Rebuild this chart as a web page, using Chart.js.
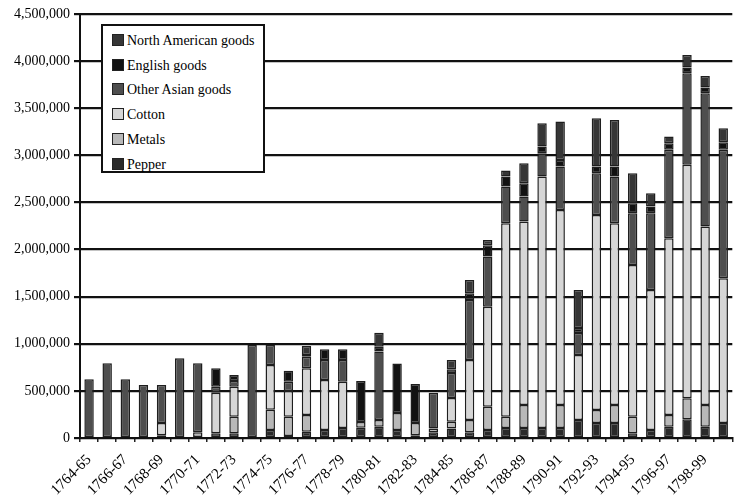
<!DOCTYPE html>
<html>
<head>
<meta charset="utf-8">
<script src="https://cdn.jsdelivr.net/npm/chart.js@4.4.1/dist/chart.umd.min.js"></script>
<style>
  html, body { margin: 0; padding: 0; background: #fff; overflow: hidden; }
  #wrap { position: relative; width: 745px; height: 497px; }
  #legend {
    position: absolute; left: 101px; top: 24px; width: 160px; height: 145px;
    border: 2px solid #111; background: #fff;
    font-family: "Liberation Serif", "DejaVu Serif", serif; font-size: 14px; color: #000;
  }
  #legend .row { position: absolute; left: 9px; height: 16px; line-height: 16px; white-space: nowrap; }
  #legend .sw { display: inline-block; width: 10px; height: 10px; border: 1px solid #222; margin-right: 3px; vertical-align: -1px; }
</style>
</head>
<body>
<div id="wrap">
  <canvas id="grafik"></canvas>
  <div id="legend"></div>
</div>
<script>
/* VERILER (bin olarak okundu) */
var yillar = ["1764-65","1765-66","1766-67","1767-68","1768-69","1769-70","1770-71","1771-72","1772-73","1773-74",
  "1774-75","1775-76","1776-77","1777-78","1778-79","1779-80","1780-81","1781-82","1782-83","1783-84",
  "1784-85","1785-86","1786-87","1787-88","1788-89","1789-90","1790-91","1791-92","1792-93","1793-94",
  "1794-95","1795-96","1796-97","1797-98","1798-99","1799-00"];

var pepper  = [10,10,10,10,30,0,0,50,50,0,85,20,67,85,106,110,120,85,30,60,100,60,85,106,106,106,106,191,159,159,50,85,120,200,120,159];
var metals  = [0,0,0,0,0,0,60,0,175,0,215,206,177,0,0,60,71,180,130,40,73,131,247,120,244,0,244,0,138,191,176,0,124,221,230,0];
var cotton  = [0,0,0,0,130,0,0,430,320,0,475,274,496,531,492,0,0,0,0,0,252,637,1062,2053,1947,2670,2070,690,2070,1929,1611,1486,1876,2478,1894,1536];
var otherAsian = [613,783,613,553,403,846,733,65,60,987,212,98,121,212,230,0,727,0,0,381,265,637,531,391,266,246,461,234,444,497,549,815,938,973,1415,1363];
var english = [0,0,0,0,0,0,0,195,64,0,0,117,20,113,113,435,50,525,413,0,40,71,120,106,142,71,70,53,71,106,106,70,70,60,60,80];
var northAmerican = [0,0,0,0,0,0,0,0,0,0,0,0,95,0,0,0,150,0,0,0,98,141,57,63,212,248,408,403,512,494,319,142,71,134,124,150];

var yEksenMax = 4500000;
var yEksenAdim = 500000;

function binle(dizi) {
  return dizi.map(function (v) { return v * 1000; });
}

/* SERILER - alttan uste */
var seriler = [
  { label: "Pepper", data: binle(pepper), backgroundColor: "#2a2a2a" },
  { label: "Metals", data: binle(metals), backgroundColor: "#b8b8b8" },
  { label: "Cotton", data: binle(cotton), backgroundColor: "#d6d6d6" },
  { label: "Other Asian goods", data: binle(otherAsian), backgroundColor: "#4e4e4e" },
  { label: "English goods", data: binle(english), backgroundColor: "#121212" },
  { label: "North American goods", data: binle(northAmerican), backgroundColor: "#363636" }
];
for (var i = 0; i < seriler.length; i++) {
  seriler[i].borderColor = "#1e1e1e";
  seriler[i].borderWidth = 1.5;
  seriler[i].borderSkipped = false;
  seriler[i].barPercentage = 0.52;
  seriler[i].categoryPercentage = 1;
}

var yazi = "'Liberation Serif', 'DejaVu Serif', serif";

var ctx = document.getElementById("grafik");
var grafik = new Chart(ctx, {
  type: "bar",
  data: { labels: yillar, datasets: seriler },
  options: {
    responsive: true,
    maintainAspectRatio: false,
    animation: false,
    layout: { padding: { top: 14, right: 2, left: 0, bottom: 0 } },
    plugins: { legend: { display: false }, tooltip: { enabled: false } },
    scales: {
      x: {
        stacked: true,
        afterFit: function (s) { s.height = 59; },
        grid: { display: true, drawOnChartArea: false, drawTicks: true, tickLength: 4, color: "#222", lineWidth: 1.5, offset: true },
        border: { display: true, color: "#111", width: 2 },
        ticks: {
          autoSkip: false, minRotation: 45, maxRotation: 45, padding: 9,
          color: "#000", font: { family: yazi, size: 15 },
          callback: function (val, index) { return index % 2 === 0 ? this.getLabelForValue(val) : ""; }
        }
      },
      y: {
        stacked: true,
        min: 0, max: yEksenMax,
        afterFit: function (s) { s.width = 80; },
        grid: { color: "#111", lineWidth: 2.2, tickLength: 6 },
        border: { display: true, color: "#111", width: 2 },
        ticks: {
          stepSize: yEksenAdim, padding: 4, color: "#000", font: { family: yazi, size: 14 },
          callback: function (v) { return v === 0 ? "0" : v.toLocaleString("en-US"); }
        }
      }
    }
  }
});

/* LEGEND KODLARI - ustten alta */
var legendHtml = "";
for (var j = seriler.length - 1; j >= 0; j--) {
  var sira = seriler.length - 1 - j;
  legendHtml += "<div class='row' style='top:" + (7 + sira * 24.7) + "px'><span class='sw' style='background:" +
    seriler[j].backgroundColor + "'></span>" + seriler[j].label + "</div>";
}
document.getElementById("legend").innerHTML = legendHtml;
</script>
</body>
</html>
